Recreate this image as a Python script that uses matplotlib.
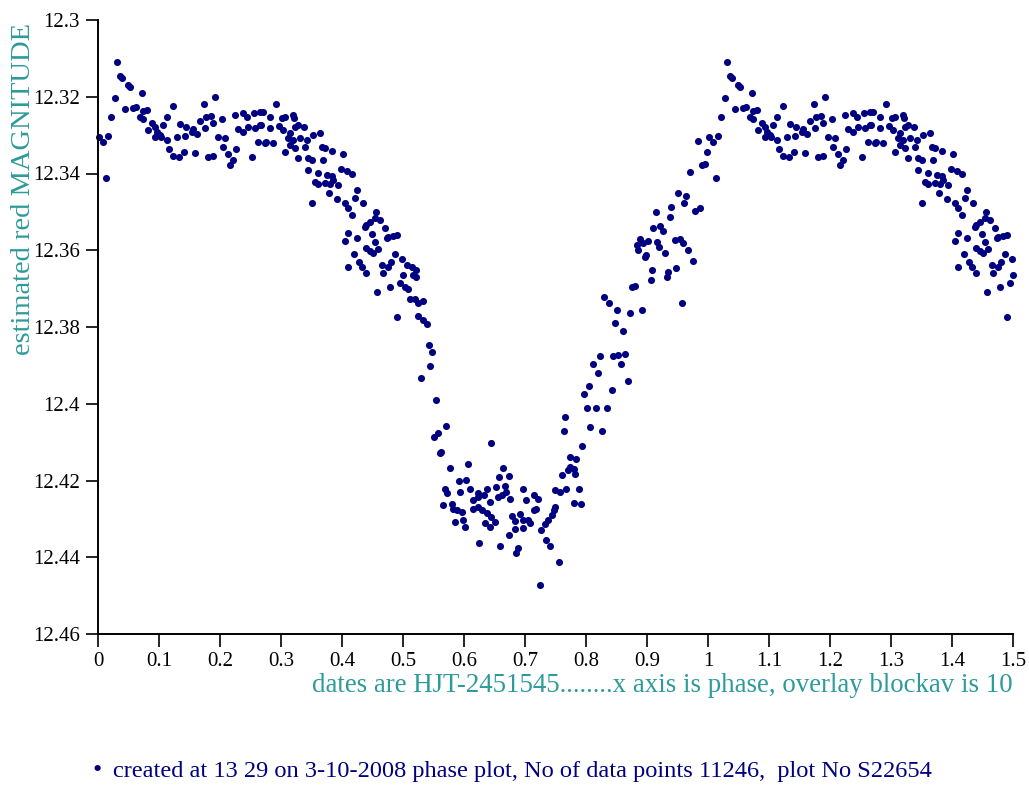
import matplotlib.pyplot as plt

# phase (0..1) and estimated red magnitude
phase = [
    .031, .036, .040, .049, .052, .072, .028, .044, .058, .062, .074, .080, .021, .069, .074, .088,
    .082, .093, .096, .102, .107, .113, .123, .002, .008, .017, .013, .093, .104, .113, .117, .123,
    .132, .141, .159, .130, .143, .154, .162, .134, .145, .156, .167, .177, .186, .173, .192, .175,
    .189, .203, .181, .189, .197, .208, .205, .213, .221, .217, .226, .225, .238, .244, .255, .266,
    .230, .238, .246, .257, .266, .252, .263, .274,
    .291, .270, .282, .301, .307, .319, .322, .268, .282, .296, .304, .315, .323, .328, .337, .275,
    .287, .312, .320, .331, .342, .353, .364, .307, .315, .323, .339, .367, .372, .383, .402, .328,
    .345, .350, .369, .345, .361, .399, .408, .416, .356, .361, .372, .380, .386, .394, .375, .383,
    .350, .379, .391, .424, .421, .435, .405, .410, .416, .456, .454, .462, .440, .438, .446, .470,
    .476, .484, .490, .410, .405, .424, .449, .454, .440, .446, .451, .459, .473, .420, .428, .432,
    .439, .410, .487, .481, .476, .465, .468, .506, .514, .522, .500, .517, .495, .503, .509, .478,
    .457, .490, .525,
    .498, .521, .511, .520, .533, .525, .533, .539, .543, .548, .544, .530, .554, .570,
    .551, .558, .562, .561, .645, .764, .794, .577, .607, .664, .674, .658, .591, .604, .569, .572,
    .594, .610, .623, .637, .652, .667, .697, .565, .580, .582, .589, .596, .615, .623, .632, .615,
    .623, .629, .643, .655, .662, .669, .676, .702, .714, .721, .637, .645, .651, .634, .643, .586,
    .599, .602, .678, .692, .684, .697, .684, .697, .705, .714, .708, .718, .673, .625, .659, .689,
    .686, .725, .727, .733, .738, .744, .747, .749, .735, .741, .755, .749, .757, .768, .760, .774,
    .784, .782, .789, .780, .791, .807,
    .805, .797, .842, .869, .801, .816, .834, .766, .827, .774, .780, .770,
    .984, .998, .990, .995, .970, .950, .964, .961, .979, .987, .940, .938, .915, .910, .921, .927,
    .889, .883, .886, .894, .902, .916, .919, .930, .899, .897, .946, .954, .959, .967, .975, .948,
    .935, .932, .908, .906, .875, .880, .957, .830, .837, .851, .872, .891, .848, .860, .823, .845,
    .853, .864, .812, .857, .819,
]
mag = [
    12.3109, 12.3146, 12.3152, 12.3170, 12.3175, 12.3190, 12.3204, 12.3232, 12.3229, 12.3226, 12.3237, 12.3235, 12.3252, 12.3252, 12.3258, 12.3268,
    12.3287, 12.3278, 12.3291, 12.3300, 12.3274, 12.3252, 12.3223, 12.3304, 12.3317, 12.3301, 12.3413, 12.3304, 12.3306, 12.3313, 12.3337, 12.3354,
    12.3358, 12.3343, 12.3347, 12.3304, 12.3302, 12.3291, 12.3297, 12.3271, 12.3278, 12.3285, 12.3262, 12.3252, 12.3249, 12.3219, 12.3200, 12.3282,
    12.3269, 12.3258, 12.3356, 12.3354, 12.3306, 12.3308, 12.3332, 12.3349, 12.3365, 12.3378, 12.3337, 12.3247, 12.3243, 12.3252, 12.3242, 12.3239,
    12.3285, 12.3291, 12.3278, 12.3282, 12.3274, 12.3356, 12.3317, 12.3321,
    12.3219, 12.3239, 12.3252, 12.3256, 12.3253, 12.3247, 12.3256, 12.3274, 12.3281, 12.3276, 12.3287, 12.3295, 12.3278, 12.3274, 12.3280, 12.3317,
    12.3321, 12.3308, 12.3313, 12.3308, 12.3313, 12.3300, 12.3294, 12.3343, 12.3326, 12.3334, 12.3330, 12.3330, 12.3334, 12.3341, 12.3350, 12.3360,
    12.3360, 12.3365, 12.3365, 12.3391, 12.3398, 12.3387, 12.3393, 12.3400, 12.3421, 12.3427, 12.3426, 12.3427, 12.3417, 12.3430, 12.3404, 12.3407,
    12.3476, 12.3452, 12.3467, 12.3443, 12.3465, 12.3476, 12.3478, 12.3491, 12.3508, 12.3500, 12.3517, 12.3521, 12.3534, 12.3539, 12.3526, 12.3543,
    12.3565, 12.3563, 12.3560, 12.3554, 12.3575, 12.3569, 12.3558, 12.3578, 12.3595, 12.3601, 12.3606, 12.3597, 12.3569, 12.3610, 12.3630, 12.3643,
    12.3660, 12.3644, 12.3610, 12.3630, 12.3643, 12.3638, 12.3658, 12.3638, 12.3643, 12.3652, 12.3664, 12.3664, 12.3686, 12.3695, 12.3702, 12.3697,
    12.3710, 12.3773, 12.3771,
    12.3624, 12.3671, 12.3728, 12.3728, 12.3732, 12.3737, 12.3782, 12.3792, 12.3848, 12.3864, 12.3902, 12.3934, 12.3990, 12.4057,
    12.4086, 12.4077, 12.4125, 12.4129, 12.4103, 12.4072, 12.4110, 12.4167, 12.4158, 12.4167, 12.4187, 12.4192, 12.4200, 12.4199, 12.4223, 12.4232,
    12.4229, 12.4223, 12.4232, 12.4223, 12.4216, 12.4214, 12.4223, 12.4264, 12.4260, 12.4273, 12.4277, 12.4281, 12.4251, 12.4242, 12.4238, 12.4273,
    12.4270, 12.4277, 12.4255, 12.4242, 12.4238, 12.4229, 12.4249, 12.4252, 12.4238, 12.4247, 12.4285, 12.4294, 12.4307, 12.4311, 12.4320, 12.4307,
    12.4303, 12.4320, 12.4293, 12.4287, 12.4305, 12.4302, 12.4327, 12.4324, 12.4303, 12.4277, 12.4310, 12.4275, 12.4342, 12.4362, 12.4370, 12.4377,
    12.4390, 12.4472, 12.4329, 12.4313, 12.4303, 12.4290, 12.4277, 12.4268, 12.4355, 12.4371, 12.4412, 12.4225, 12.4229, 12.4222, 12.4185, 12.4138,
    12.4145, 12.4183, 12.4223, 12.4258, 12.4260, 12.4060,
    12.3954, 12.3975, 12.3964, 12.3940, 12.4010, 12.4012, 12.4012, 12.4034, 12.4071, 12.4165, 12.4171, 12.4173,
    12.3315, 12.3343, 12.3378, 12.3375, 12.3395, 12.3452, 12.3459, 12.3478, 12.3497, 12.3491, 12.3487, 12.3513, 12.3500, 12.3543, 12.3537, 12.3550,
    12.3571, 12.3586, 12.3599, 12.3580, 12.3575, 12.3578, 12.3591, 12.3608, 12.3612, 12.3618, 12.3573, 12.3571, 12.3582, 12.3599, 12.3627, 12.3647,
    12.3656, 12.3669, 12.3652, 12.3678, 12.3697, 12.3693, 12.3738, 12.3723, 12.3738, 12.3757, 12.3764, 12.3756, 12.3789, 12.3810, 12.3875, 12.3875,
    12.3873, 12.3870, 12.3896, 12.3896, 12.3921,
]

xticks = [0, 0.1, 0.2, 0.3, 0.4, 0.5, 0.6, 0.7, 0.8, 0.9, 1, 1.1, 1.2, 1.3, 1.4, 1.5]
yticks = [12.3, 12.32, 12.34, 12.36, 12.38, 12.4, 12.42, 12.44, 12.46]

ylab = 'estimated red MAGNITUDE'
xlab = 'dates are HJT-2451545........x axis is phase, overlay blockav is 10'
footer = 'created at 13 29 on 3-10-2008 phase plot, No of data points 11246,  plot No S22654'

# overlay: first half of the cycle is drawn again after phase 1
px = phase + [p + 1 for p in phase if p <= 0.5]
py = mag + [m for p, m in zip(phase, mag) if p <= 0.5]

teal = '#2E9A9A'
plt.rcParams['font.family'] = ['Liberation Serif', 'DejaVu Serif']

fig = plt.figure(figsize=(10.29, 7.86), dpi=100)
ax = fig.add_axes([98/1029, 1 - 634/786, (1013 - 98)/1029, (634 - 20)/786])
ax.scatter(px, py, s=26, color='navy', linewidths=0, clip_on=False)

ax.set_xlim(0, 1.5)
ax.set_ylim(12.46, 12.3)
ax.set_xticks(xticks)
ax.set_xticklabels(['%g' % t for t in xticks])
ax.set_yticks(yticks)
ax.set_yticklabels(['%g' % t for t in yticks])
ax.tick_params(axis='both', labelsize=15, colors='black', width=1.2)
ax.tick_params(axis='x', length=9, pad=4)
ax.tick_params(axis='y', length=9, pad=4)
for side in ['top', 'right']:
    ax.spines[side].set_visible(False)
for side in ['left', 'bottom']:
    ax.spines[side].set_linewidth(1.4)

fig.text(24/1029, 1 - 189/786, ylab, rotation=90, ha='center', va='center',
         color=teal, fontsize=20.5)
fig.text(1013/1029, 1 - 686/786, xlab, ha='right', va='center',
         color=teal, fontsize=19.4)
fig.text(97/1029, 1 - 771/786, '•', ha='center', va='center', color='navy', fontsize=19)
fig.text(113/1029, 1 - 771/786, footer, ha='left', va='center', color='navy', fontsize=17.6)

fig.savefig('out.png', dpi=100)
